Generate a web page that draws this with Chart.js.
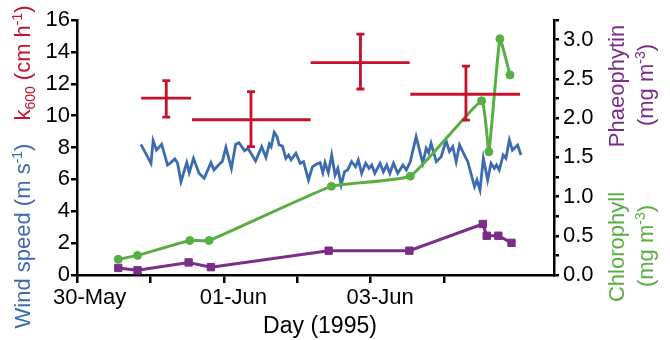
<!DOCTYPE html>
<html>
<head>
<meta charset="utf-8">
<script src="https://cdn.jsdelivr.net/npm/chart.js@4.4.0/dist/chart.umd.min.js"></script>
<style>html,body{margin:0;padding:0;background:#fff}</style>
</head>
<body>
<canvas id="c" width="670" height="340"></canvas>
<script>
// time axis is hours after 30-May-1995 00:00
const dayLabels = ['30-May', '', '01-Jun', '', '03-Jun', '', '05-Jun'];

const windHours = [20.9, 24.2, 24.9, 26.0, 27.7, 29.6, 30.7, 32.0, 32.9, 34.0, 35.9, 36.7, 38.1, 39.9, 41.6,
  43.8, 44.8, 46.5, 47.5, 48.7, 50.5, 51.9, 53.0, 54.8, 55.9, 58.4, 60.4, 61.8, 62.9, 63.5, 64.5, 65.4,
  66.1, 67.2, 68.3, 69.2, 70.0, 71.6, 73.0, 74.1, 75.7, 77.0, 78.4, 79.5, 80.4, 81.1, 82.2, 83.3, 84.4,
  85.3, 86.4, 87.5, 88.5, 89.8, 91.1, 92.0, 93.1, 94.4, 95.5, 96.4, 97.4, 99.1, 100.2, 101.3, 102.3,
  103.5, 104.9, 106.6, 107.7, 109.0, 110.9, 113.1, 114.2, 115.0, 115.8, 117.5, 119.1, 120.7, 121.8,
  122.9, 124.0, 125.1, 126.7, 127.8, 130.0, 130.8, 131.8, 132.9, 134.3, 135.4, 136.5, 137.2, 138.1,
  139.4, 140.3, 141.4, 142.4, 144.1, 145.2];
const windSpeed = [8.20, 7.01, 8.43, 7.84, 8.20, 6.90, 7.05, 7.28, 7.01, 5.85, 7.05, 6.42, 7.32, 6.38, 6.07,
  7.05, 6.59, 6.95, 7.11, 8.01, 6.69, 8.20, 8.30, 7.80, 7.95, 7.15, 8.05, 7.38, 8.22, 8.05, 8.95, 8.68,
  8.16, 8.09, 7.32, 7.53, 7.22, 7.64, 7.01, 7.11, 5.96, 6.79, 6.96, 7.05, 6.42, 7.05, 6.42, 7.53, 6.27,
  6.69, 5.65, 6.48, 6.59, 7.11, 6.79, 7.22, 6.38, 7.01, 6.69, 6.90, 6.38, 7.01, 6.48, 6.90, 6.38,
  7.01, 6.38, 6.90, 6.59, 7.11, 8.68, 7.01, 7.95, 7.67, 8.26, 7.11, 7.42, 8.43, 7.74,
  8.05, 7.11, 8.16, 7.53, 7.11, 5.54, 5.96, 5.33, 7.32, 5.96, 7.01, 6.69, 6.90, 6.59,
  7.53, 7.32, 8.47, 7.84, 8.16, 7.53];

const chlHours = [13.5, 19.8, 36.9, 43.2, 83.2, 109.0, 132.3, 134.7, 138.3, 141.6];
const chlValues = [0.20, 0.25, 0.44, 0.44, 1.13, 1.26, 2.22, 1.57, 3.01, 2.55];

const phaeoHours = [13.5, 19.8, 36.5, 43.8, 82.3, 108.7, 132.7, 134.0, 137.8, 142.1];
const phaeoValues = [0.09, 0.06, 0.16, 0.10, 0.31, 0.31, 0.65, 0.50, 0.50, 0.41];

// k600: averaging window (start/end), mid time, mean and error range
const kStart = [21.0, 37.6, 76.4, 109.0];
const kEnd = [37.3, 76.4, 108.8, 144.9];
const kMid = [29.2, 56.9, 92.7, 127.2];
const kValue = [11.1, 9.74, 13.32, 11.34];
const kLow = [9.9, 8.05, 11.67, 9.72];
const kHigh = [12.2, 11.5, 15.12, 13.11];

const RED = '#c8102e', BLUE = '#3d6bb2', GREEN = '#58ae42', PURPLE = '#7b2d88';
const FAMILY = '"Liberation Sans", Arial, Helvetica, sans-serif';

const pts = (xs, ys) => xs.map((x, i) => ({x: x, y: ys[i]}));

function drawRich(ctx, parts, x, y, color, size) {
  ctx.save();
  ctx.translate(x, y);
  ctx.rotate(-Math.PI / 2);
  ctx.fillStyle = color;
  ctx.textBaseline = 'alphabetic';
  ctx.textAlign = 'left';
  const fontFor = p => ((p.sub || p.sup) ? Math.round(size * 0.64) : size) + 'px ' + FAMILY;
  let w = 0;
  parts.forEach(p => { ctx.font = fontFor(p); w += ctx.measureText(p.t).width; });
  let cx = -w / 2;
  parts.forEach(p => {
    ctx.font = fontFor(p);
    const dy = p.sub ? size * 0.22 : p.sup ? -size * 0.38 : 0;
    ctx.fillText(p.t, cx, dy);
    cx += ctx.measureText(p.t).width;
  });
  ctx.restore();
}

const kBars = {
  id: 'kBars',
  afterDatasetsDraw(chart) {
    const ctx = chart.ctx, x = chart.scales.x, y = chart.scales.y;
    ctx.save();
    ctx.strokeStyle = RED;
    ctx.lineWidth = 2.8;
    for (let i = 0; i < kValue.length; i++) {
      const yv = y.getPixelForValue(kValue[i]);
      const xm = x.getPixelForValue(kMid[i]);
      const yh = y.getPixelForValue(kHigh[i]);
      const yl = y.getPixelForValue(kLow[i]);
      ctx.beginPath();
      ctx.moveTo(x.getPixelForValue(kStart[i]), yv);
      ctx.lineTo(x.getPixelForValue(kEnd[i]), yv);
      ctx.moveTo(xm, yh); ctx.lineTo(xm, yl);
      ctx.moveTo(xm - 4, yh); ctx.lineTo(xm + 4, yh);
      ctx.moveTo(xm - 4, yl); ctx.lineTo(xm + 4, yl);
      ctx.stroke();
    }
    ctx.restore();
  }
};

const titles = {
  id: 'titles',
  afterDraw(chart) {
    const ctx = chart.ctx;
    drawRich(ctx, [{t: 'k'}, {t: '600', sub: true}, {t: ' (cm h'}, {t: '-1', sup: true}, {t: ')'}], 30, 63, RED, 22);
    drawRich(ctx, [{t: 'Wind speed (m s'}, {t: '-1', sup: true}, {t: ')'}], 30, 236, BLUE, 22);
    drawRich(ctx, [{t: 'Phaeophytin'}], 624, 86, PURPLE, 22);
    drawRich(ctx, [{t: '(mg m'}, {t: '-3', sup: true}, {t: ')'}], 653, 85, PURPLE, 22);
    drawRich(ctx, [{t: 'Chlorophyll'}], 624, 247, GREEN, 22);
    drawRich(ctx, [{t: '(mg m'}, {t: '-3', sup: true}, {t: ')'}], 653, 246, GREEN, 22);
    ctx.save();
    ctx.fillStyle = '#000';
    ctx.font = '23px ' + FAMILY;
    ctx.textAlign = 'center';
    ctx.textBaseline = 'alphabetic';
    ctx.fillText('Day (1995)', 320, 333);
    ctx.restore();
  }
};

const tickFont = {family: FAMILY, size: 22};
const axisGrid = len => ({drawOnChartArea: false, color: '#000', lineWidth: 2.5, tickLength: len, tickWidth: 2.5});
const axisBorder = {color: '#000', width: 2.5};

new Chart(document.getElementById('c'), {
  type: 'line',
  data: {
    datasets: [
      {label: 'Chlorophyll', data: pts(chlHours, chlValues), yAxisID: 'y2', borderColor: GREEN,
        backgroundColor: GREEN, borderWidth: 3, tension: 0.12, pointRadius: 4, pointBorderWidth: 1},
      {label: 'Phaeophytin', data: pts(phaeoHours, phaeoValues), yAxisID: 'y2', borderColor: PURPLE,
        backgroundColor: PURPLE, borderWidth: 3, tension: 0, pointStyle: 'rect', pointRadius: 5.2, pointBorderWidth: 1},
      {label: 'Wind speed', data: pts(windHours, windSpeed), yAxisID: 'y', borderColor: BLUE,
        borderWidth: 2.8, tension: 0, pointRadius: 0}
    ]
  },
  options: {
    responsive: false,
    animation: false,
    devicePixelRatio: 1,
    layout: {padding: {top: 20}},
    plugins: {legend: {display: false}, tooltip: {enabled: false}},
    scales: {
      x: {
        type: 'linear', position: 'bottom', min: 0, max: 156,
        afterFit(s) { s.height = 65; },
        afterBuildTicks(s) { s.ticks = s.ticks.filter(t => t.value <= 144); },
        grid: axisGrid(8), border: axisBorder,
        ticks: {stepSize: 24, autoSkip: false, maxRotation: 0, align: 'start', labelOffset: -24, padding: 2,
          color: '#000', font: tickFont, callback: v => dayLabels[Math.round(v / 24)]}
      },
      y: {
        position: 'left', min: 0, max: 16,
        afterFit(s) { s.width = 77; },
        grid: axisGrid(6), border: axisBorder,
        ticks: {stepSize: 2, autoSkip: false, padding: 1, color: '#000', font: tickFont}
      },
      y2: {
        position: 'right', min: 0, max: 3.25,
        afterFit(s) { s.width = 116; },
        grid: axisGrid(5), border: axisBorder,
        ticks: {stepSize: 0.25, autoSkip: false, padding: 4, color: '#000', font: tickFont,
          callback: v => (Math.round(v * 4) % 2 === 0 ? v.toFixed(1) : '')}
      }
    }
  },
  plugins: [kBars, titles]
});
</script>
</body>
</html>
